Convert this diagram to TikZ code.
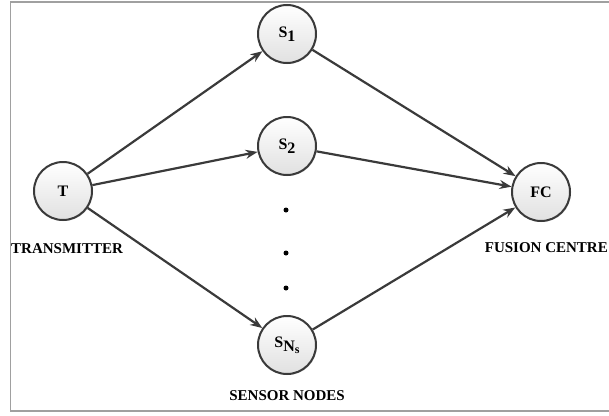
\documentclass[tikz,border=0pt]{standalone}
\usepackage{fontspec}
\setmainfont{Liberation Serif}
\usetikzlibrary{arrows.meta,shadows}
\definecolor{edgegray}{HTML}{3A3A3A}
\definecolor{framegray}{HTML}{A0A0A0}
\tikzset{
  station/.style={circle, draw=edgegray, line width=2pt, minimum size=58pt,
    inner sep=0pt, top color=white, bottom color=black!12,
    drop shadow={shadow xshift=1pt, shadow yshift=-1pt, opacity=0.25},
    font=\fontsize{16}{18}\selectfont\bfseries},
  caption/.style={font=\fontsize{15}{17}\selectfont\bfseries, inner sep=0pt},
  link/.style={draw=edgegray, line width=2.2pt,
    -{Stealth[length=12pt, width=9pt]}},
  ellip/.style={circle, fill=black, inner sep=0pt, minimum size=5pt}
}
\newcommand{\lowsub}[1]{\raisebox{-0.55ex}{\fontsize{16}{18}\selectfont #1}}
\begin{document}
\begin{tikzpicture}[x=1pt, y=-1pt]
  \useasboundingbox (0,0) rectangle (609,415);
  % open frame
  \draw[framegray, line width=1.2pt] (609,2) -- (10.5,2) -- (10.5,411) -- (609,411);

  % stations
  \node[station] (T)  at (63,191)  {T};
  \node[station] (S1) at (287,34)  {S\lowsub{1}};
  \node[station] (S2) at (287,146) {S\lowsub{2}};
  \node[station] (SN) at (287,345) {S\lowsub{N\raisebox{-0.3ex}{\fontsize{12}{13}\selectfont s}}};
  \node[station] (FC) at (541,192) {FC};

  % ellipsis between the sensors
  \node[ellip] (d1) at (286,210) {};
  \node[ellip] (d2) at (286,253) {};
  \node[ellip] (d3) at (286,288) {};

  % captions
  \node[caption, anchor=west] (capT)  at (11,249)  {TRANSMITTER};
  \node[caption, anchor=east] (capFC) at (608,248) {FUSION CENTRE};
  \node[caption, anchor=east] (capS)  at (345,396) {SENSOR NODES};

  % links
  \draw[link] (T) -- (S1);
  \draw[link] (T) -- (S2);
  \draw[link] (T) -- (SN);
  \draw[link] (S1) -- (FC);
  \draw[link] (S2) -- (FC);
  \draw[link] (SN) -- (FC);
\end{tikzpicture}
\end{document}
